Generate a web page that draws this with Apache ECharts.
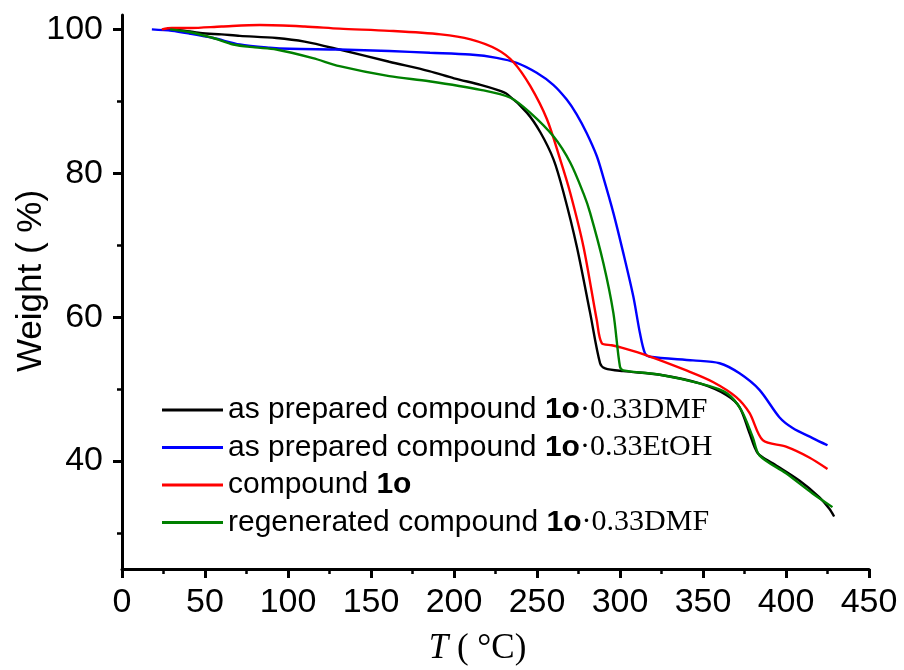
<!DOCTYPE html>
<html>
<head>
<meta charset="utf-8">
<script src="https://cdn.jsdelivr.net/npm/echarts@6/dist/echarts.min.js"></script>
<style>
  html, body { margin: 0; padding: 0; background: #fff; }
  #chart { width: 904px; height: 670px; }
</style>
</head>
<body>
<div id="chart"></div>
<script>
// TGA curves, temperature (°C) vs weight (%)
var blackT = [26, 35, 47, 60, 71, 93, 110, 131, 161, 185, 200, 216, 226, 232, 244, 252, 260, 266, 274, 282, 288, 291, 302, 324, 348, 364, 372, 378, 383, 392, 408, 420, 426, 429];
var blackW = [100, 99.9, 99.5, 99.3, 99.1, 98.8, 98.3, 97.2, 95.5, 94.2, 93.2, 92.3, 91.6, 91, 88.4, 85.7, 81.9, 77.3, 69.8, 60.6, 53.6, 52.9, 52.5, 52, 50.8, 49.2, 47.5, 43.9, 41.1, 39.7, 37.3, 35, 33.4, 32.3];

var blueT = [18, 30, 41, 55, 71, 89, 101, 131, 161, 185.5, 209.6, 225.7, 237.8, 249.8, 259.8, 267.9, 273.9, 279.9, 286, 290, 296, 302, 308, 312, 315, 318, 344, 360, 372, 384, 396, 404, 416, 425];
var blueW = [100, 99.8, 99.4, 98.8, 97.9, 97.45, 97.3, 97.2, 97.0, 96.75, 96.5, 96.05, 95.35, 93.97, 92.3, 90.25, 88.2, 85.6, 82.4, 79.4, 74.5, 68.9, 62.9, 57.8, 55, 54.5, 54, 53.6, 52.2, 49.9, 46.1, 44.6, 43.2, 42.2];

var redT = [24, 30, 41, 60, 83, 110, 131, 161, 192, 210, 226, 236, 246, 256, 264, 270, 278, 286, 289, 295, 302, 316, 340, 356, 370, 378, 386, 400, 414, 425];
var redW = [100, 100.2, 100.2, 100.4, 100.6, 100.4, 100.1, 99.8, 99.3, 98.6, 97.2, 95.4, 92.1, 87.5, 81.9, 77.3, 69.8, 59.6, 56.4, 56.1, 55.7, 54.7, 52.6, 51, 48.9, 46.7, 42.9, 42, 40.5, 38.9];

var greenT = [29, 41, 55, 67, 80, 93, 115, 131, 161, 185, 216, 234, 246, 260, 270, 278, 282, 290, 296, 300, 302, 324, 348, 364, 373, 380, 384, 400, 416, 428];
var greenW = [100, 99.6, 98.8, 97.9, 97.5, 97.2, 96.0, 94.9, 93.5, 92.8, 91.6, 90.5, 88.4, 85.1, 81.5, 77.2, 74.5, 67.5, 60.6, 53.1, 52.6, 52, 50.8, 49.5, 47.1, 43.3, 40.8, 38.3, 35.5, 33.6];

var seriesNames = [
    'as prepared compound 1o·0.33DMF',
    'as prepared compound 1o·0.33EtOH',
    'compound 1o',
    'regenerated compound 1o·0.33DMF'
];
var seriesColors = ['#000000', '#0000ff', '#ff0000', '#008000'];

var yTicks = [40, 60, 80, 100];
var yMinorTicks = [30, 50, 70, 90];

function zip(a, b) {
    var out = [];
    for (var i = 0; i < a.length; i++) out.push([a[i], b[i]]);
    return out;
}

var allData = [zip(blackT, blackW), zip(blueT, blueW), zip(redT, redW), zip(greenT, greenW)];

var myChart = echarts.init(document.getElementById('chart'));

var sans = '"Liberation Sans", Arial, sans-serif';
var serif = '"Liberation Serif", "Times New Roman", serif';

var series = [];
for (var i = 0; i < 4; i++) {
    series.push({
        name: seriesNames[i],
        type: 'line',
        data: allData[i],
        showSymbol: false,
        symbol: 'none',
        smooth: 0.3,
        lineStyle: { color: seriesColors[i], width: 2.4 },
        itemStyle: { color: seriesColors[i] }
    });
}

var option = {
    backgroundColor: '#fff',
    animation: false,
    grid: { left: 122, right: 35, top: 15, bottom: 101, containLabel: false, outerBoundsMode: 'none' },
    legend: {
        orient: 'vertical',
        left: 157,
        top: 390,
        itemWidth: 61,
        itemHeight: 3,
        itemGap: 7.5,
        icon: 'rect',
        data: seriesNames,
        formatter: function (name) {
            var parts = name.split('1o');
            var s = '{a|' + parts[0] + '}{b|1o}';
            if (parts[1]) s += '{c|' + parts[1] + '}';
            return s;
        },
        textStyle: {
            color: '#000',
            rich: {
                a: { fontFamily: sans, fontSize: 30, lineHeight: 30, color: '#000' },
                b: { fontFamily: sans, fontSize: 30, lineHeight: 30, fontWeight: 'bold', color: '#000' },
                c: { fontFamily: serif, fontSize: 30, lineHeight: 30, color: '#000' }
            }
        }
    },
    xAxis: {
        type: 'value',
        min: 0,
        max: 450,
        interval: 50,
        name: '{i|T}{n| ( °C)}',
        nameLocation: 'middle',
        nameGap: 62,
        nameMoveOverlap: false,
        nameTextStyle: {
            padding: [0, 36, 0, 0],
            rich: {
                i: { fontFamily: serif, fontStyle: 'italic', fontSize: 35, color: '#000' },
                n: { fontFamily: serif, fontSize: 35, color: '#000' }
            }
        },
        splitLine: { show: false },
        axisLine: { onZero: false, lineStyle: { color: '#000', width: 3 } },
        axisTick: { inside: false, length: 9, lineStyle: { color: '#000', width: 3 } },
        minorTick: { show: true, splitNumber: 2, length: 5, lineStyle: { color: '#000', width: 2.5 } },
        axisLabel: { fontFamily: sans, fontSize: 34, color: '#000', margin: 17 }
    },
    yAxis: [{
        type: 'value',
        min: 25,
        max: 102,
        name: 'Weight ( %)',
        nameLocation: 'middle',
        nameGap: 73,
        nameRotate: 90,
        nameMoveOverlap: false,
        nameTextStyle: { fontFamily: sans, fontSize: 35, color: '#000', padding: [0, 0, 0, 22] },
        splitLine: { show: false },
        axisLine: { onZero: false, lineStyle: { color: '#000', width: 3 } },
        axisTick: { customValues: yTicks, inside: false, length: 9, lineStyle: { color: '#000', width: 3 } },
        axisLabel: { customValues: yTicks, fontFamily: sans, fontSize: 34, color: '#000', margin: 19 }
    }, {
        type: 'value',
        min: 25,
        max: 102,
        position: 'left',
        splitLine: { show: false },
        axisLine: { show: false },
        axisTick: { customValues: yMinorTicks, inside: false, length: 5, lineStyle: { color: '#000', width: 2.5 } },
        axisLabel: { show: false }
    }],
    series: series
};

if (option && typeof option === 'object') {
    myChart.setOption(option);
}
</script>
</body>
</html>
